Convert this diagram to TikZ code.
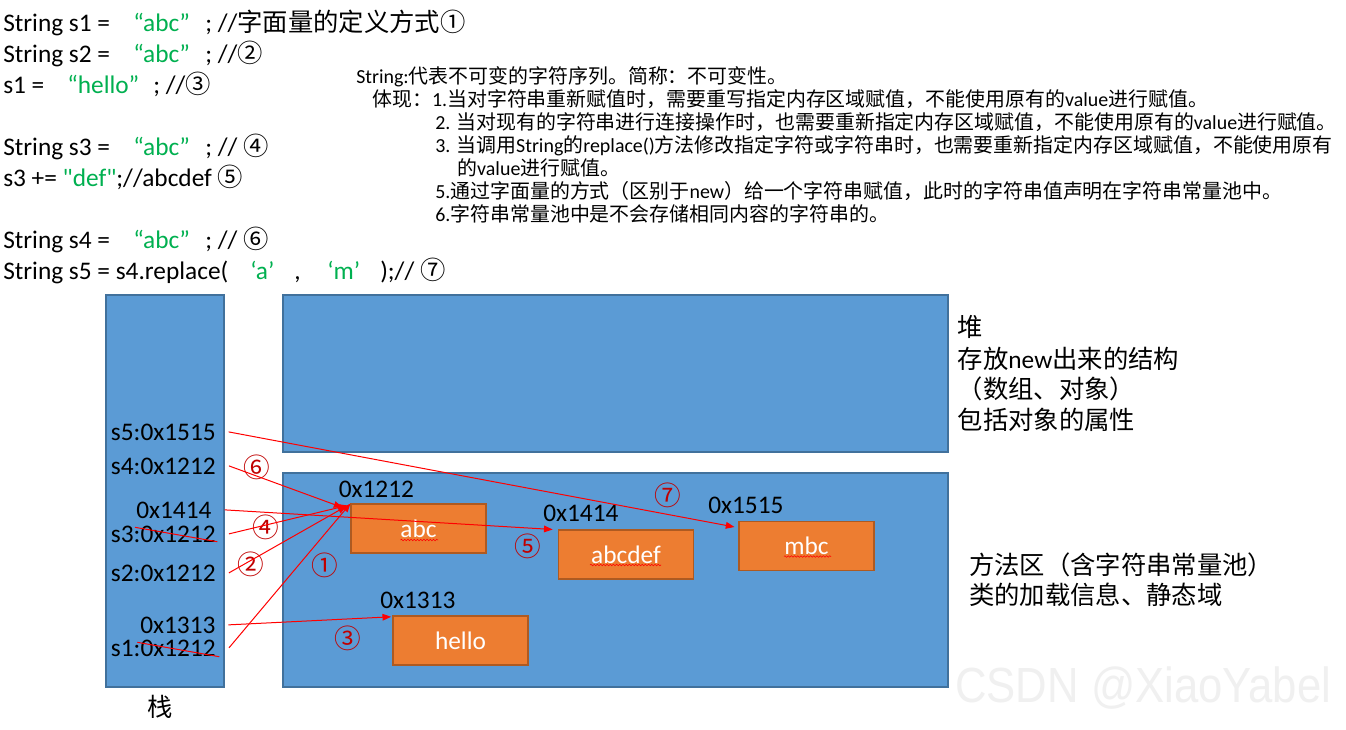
\documentclass[tikz,border=0pt]{standalone}
\usepackage{fontspec}
\setmainfont{Carlito}
\newfontfamily\cjkfam{Noto Sans CJK SC}
\newfontfamily\wmfam{Liberation Sans}
\usetikzlibrary{arrows.meta,decorations.pathmorphing}
\definecolor{areablue}{HTML}{5B9BD5}
\definecolor{areaedge}{HTML}{41719C}
\definecolor{objorange}{HTML}{ED7D31}
\definecolor{objedge}{HTML}{AE5A21}
\definecolor{codegreen}{HTML}{00B050}
\definecolor{ptrred}{HTML}{FF0000}
\definecolor{numred}{HTML}{C00000}
% automatic switching to the CJK font for CJK characters
\XeTeXinterchartokenstate=1
\newXeTeXintercharclass\CJKcls
\newcount\clscnt
\def\setcls#1#2{\clscnt=#1\relax
  \loop\XeTeXcharclass\clscnt=\CJKcls
  \ifnum\clscnt<#2\relax\advance\clscnt by 1\repeat}
\setcls{"2460}{"24FF}
\setcls{"3000}{"303F}
\setcls{"4E00}{"9FFF}
\setcls{"FF00}{"FFEF}
\XeTeXcharclass"201C=0 \XeTeXcharclass"201D=0
\XeTeXcharclass"2018=0 \XeTeXcharclass"2019=0
\XeTeXinterchartoks 0 \CJKcls = {\cjkfam}
\XeTeXinterchartoks 4095 \CJKcls = {\cjkfam}
\XeTeXinterchartoks \CJKcls 0 = {\rmfamily}
\XeTeXinterchartoks \CJKcls 4095 = {\rmfamily}
\begin{document}
\begin{tikzpicture}[x=0.75pt,y=-0.75pt,
  fnt/.style={font=\fontsize{19}{23}\selectfont},
  txt/.style={fnt,anchor=base west,inner sep=0pt},
  dtxt/.style={font=\fontsize{14.95}{18}\selectfont,anchor=base west,inner sep=0pt},
  ctxt/.style={fnt,anchor=west,inner sep=0pt},
  area/.style={fill=areablue,draw=areaedge,line width=0.8pt},
  obj/.style={fill=objorange,draw=objedge,line width=0.8pt,text=white,fnt,
    minimum width=101.25pt,minimum height=36.75pt,inner sep=0pt},
  num/.style={text=numred,font=\fontsize{20}{24}\selectfont,inner sep=0pt},
  ptr/.style={draw=ptrred,line width=0.75pt,-{Triangle[length=6.5pt,width=5pt]}},
  strike/.style={draw=ptrred,line width=0.75pt},
  squig/.style={draw=ptrred,line width=0.4pt,decorate,
    decoration={snake,amplitude=0.6pt,segment length=2.4pt}}
]
\useasboundingbox[fill=white] (0,0) rectangle (1346,729);

% ---- code lines
\node[txt] (c1a) at (3,31.5) {String s1 =};
\node[txt,text=codegreen] (c1b) at (133,31.5) {“abc”};
\node[txt] (c1c) at (205,31.5) {; //字面量的定义方式①};
\node[txt] (c2a) at (3,62.5) {String s2 =};
\node[txt,text=codegreen] (c2b) at (133,62.5) {“abc”};
\node[txt] (c2c) at (205,62.5) {; //②};
\node[txt] (c3a) at (3,93.5) {s1 =};
\node[txt,text=codegreen] (c3b) at (67,93.5) {“hello”};
\node[txt] (c3c) at (153,93.5) {; //③};
\node[txt] (c4a) at (3,155.5) {String s3 =};
\node[txt,text=codegreen] (c4b) at (133,155.5) {“abc”};
\node[txt] (c4c) at (205,155.5) {; // ④};
\node[txt] (c5a) at (3,186.5) {s3 += \textcolor{codegreen}{\textquotedbl def\textquotedbl};//abcdef ⑤};
\node[txt] (c6a) at (3,248.5) {String s4 =};
\node[txt,text=codegreen] (c6b) at (133,248.5) {“abc”};
\node[txt] (c6c) at (205,248.5) {; // ⑥};
\node[txt] (c7a) at (3,279.5) {String s5 = s4.replace(};
\node[txt,text=codegreen] (c7b) at (250,279.5) {‘a’};
\node[txt] (c7c) at (294,279.5) {,};
\node[txt,text=codegreen] (c7d) at (327,279.5) {‘m’};
\node[txt] (c7e) at (380,279.5) {);// ⑦};

% ---- description
\node[dtxt] (d1) at (356,83) {String:代表不可变的字符序列。简称：不可变性。};
\node[dtxt] (d2) at (372,106) {体现：1.当对字符串重新赋值时，需要重写指定内存区域赋值，不能使用原有的value进行赋值。};
\node[dtxt] (d3) at (435,129) {2. 当对现有的字符串进行连接操作时，也需要重新指定内存区域赋值，不能使用原有的value进行赋值。};
\node[dtxt] (d4) at (435,152) {3. 当调用String的replace()方法修改指定字符或字符串时，也需要重新指定内存区域赋值，不能使用原有};
\node[dtxt] (d5) at (457,175) {的value进行赋值。};
\node[dtxt] (d6) at (435,198) {5.通过字面量的方式（区别于new）给一个字符串赋值，此时的字符串值声明在字符串常量池中。};
\node[dtxt] (d7) at (435,221) {6.字符串常量池中是不会存储相同内容的字符串的。};

% ---- memory areas
\draw[area] (106,295) rectangle (224,687);
\draw[area] (283,295) rectangle (948,452);
\draw[area] (283,473) rectangle (948,687);

\node[fnt,inner sep=0pt] (stk) at (160,707) {栈};
\node[ctxt] (h1) at (957.5,327) {堆};
\node[ctxt] (h2) at (957.5,359) {存放new出来的结构};
\node[ctxt] (h3) at (957.5,389) {（数组、对象）};
\node[ctxt] (h4) at (957.5,420) {包括对象的属性};
\node[ctxt] (m1) at (969,565) {方法区（含字符串常量池）};
\node[ctxt] (m2) at (969,595) {类的加载信息、静态域};

% ---- stack labels
\node[txt] (s5) at (110.7,440) {s5:0x1515};
\node[txt] (s4) at (110.7,474) {s4:0x1212};
\node[txt] (p1414) at (136,518) {0x1414};
\node[txt] (s3) at (110.7,542) {s3:0x1212};
\node[txt] (s2) at (110.7,581) {s2:0x1212};
\node[txt] (p1313) at (140,633) {0x1313};
\node[txt] (s1) at (110.7,656) {s1:0x1212};
\draw[strike] (135,527.3) -- (217.3,541.7);
\draw[strike] (137.3,642.3) -- (219.3,656.7);

% ---- objects in the constant pool
\node[obj] (abc) at (418.5,528.5) {abc};
\node[obj] (abcdef) at (626,554.5) {abcdef};
\node[obj] (mbc) at (806.5,546) {mbc};
\node[obj] (hello) at (460.5,640.5) {hello};
\draw[squig] (400.5,540) -- (438,540);
\draw[squig] (590,565) -- (661,565);
\draw[squig] (784,556.5) -- (831,556.5);

\node[txt] (a1212) at (338.5,497) {0x1212};
\node[txt] (a1414) at (543,521) {0x1414};
\node[txt] (a1515) at (708,513) {0x1515};
\node[txt] (a1313) at (380,608) {0x1313};

% ---- step numbers
\node[num] (n6) at (256.7,467.3) {⑥};
\node[num] (n4) at (266,527.3) {④};
\node[num] (n2) at (250.7,564) {②};
\node[num] (n1) at (325,565.7) {①};
\node[num] (n3) at (348.3,638.3) {③};
\node[num] (n5) at (528,546) {⑤};
\node[num] (n7) at (668,495) {⑦};

% ---- references
\draw[ptr] ([xshift=9.5pt]s5.east) -- ([xshift=-3pt,yshift=-4.5pt]mbc.north west);
\draw[ptr] ([xshift=9.75pt]s4.east) -- ([xshift=-6pt,yshift=-3pt]abc.north west);
\draw[ptr] ([xshift=9.75pt]p1414.east) -- ([xshift=-4pt]abcdef.north west);
\draw[ptr] ([xshift=9.75pt]s3.east) -- ([xshift=-2.25pt,yshift=-1.5pt]abc.north west);
\draw[ptr] ([xshift=9.75pt]s2.east) -- ([xshift=-3pt,yshift=-2pt]abc.north west);
\draw[ptr] ([xshift=9.5pt]p1313.east) -- ([xshift=-1pt,yshift=-1pt]hello.north west);
\draw[ptr] ([xshift=9.75pt]s1.east) -- (abc.north west);

% ---- watermark
\node[anchor=base west,inner sep=0pt,text=black!6,font=\wmfam\fontsize{37}{40}\selectfont]
  (wm) at (955,702) {\scalebox{0.885}[1]{CSDN @XiaoYabel}};
\end{tikzpicture}
\end{document}
